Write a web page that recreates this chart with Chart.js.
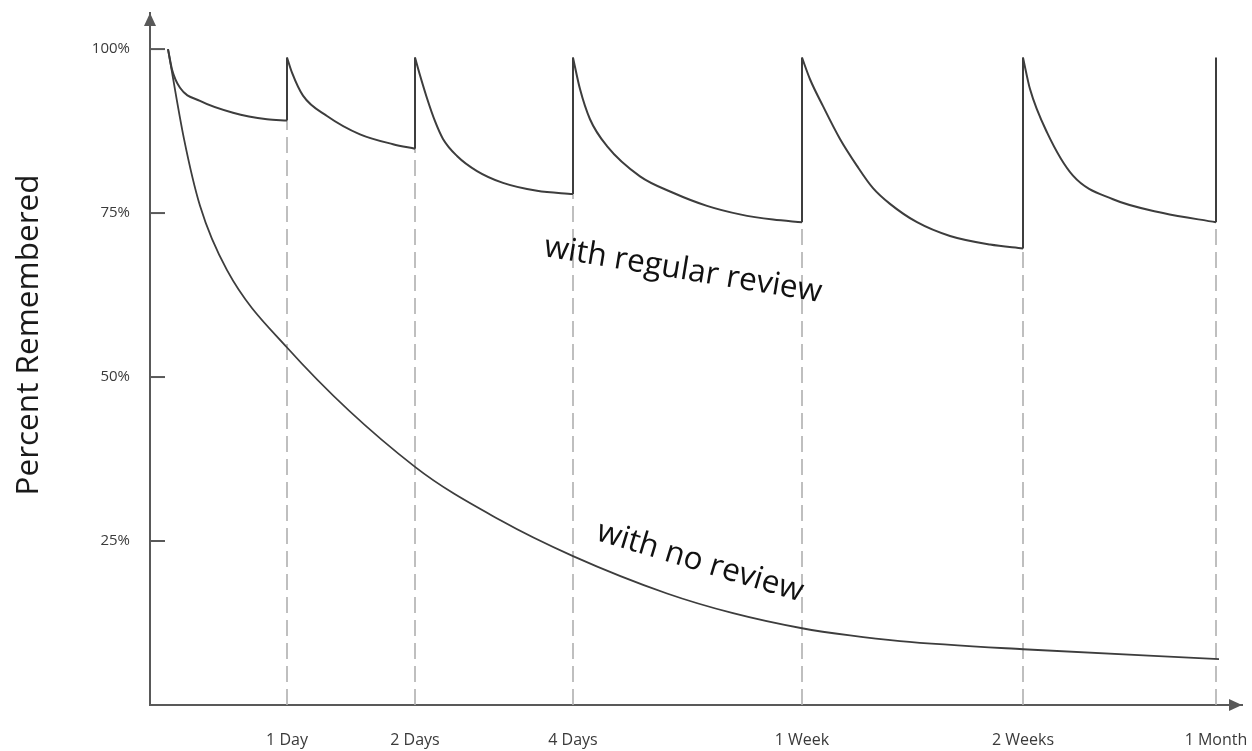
<!DOCTYPE html>
<html>
<head>
<meta charset="utf-8">
<script src="https://cdn.jsdelivr.net/npm/chart.js@4.4.1/dist/chart.umd.min.js"></script>
<style>
  html, body { margin: 0; padding: 0; background: #fff; }
  #wrap { width: 1252px; height: 751px; position: relative; }
</style>
</head>
<body>
<div id="wrap"><canvas id="chart"></canvas></div>
<script>
// review points on the (schematic) time axis
const tickLabels = ['1 Day', '2 Days', '4 Days', '1 Week', '2 Weeks', '1 Month'];
const tickPos = [1.37, 2.65, 4.23, 6.52, 8.73, 10.66];
const yTicks = [25, 50, 75, 100];

// forgetting curve without review
const noReviewX = [0.18, 0.34, 0.50, 0.77, 1.37, 2.65, 3.50, 4.23, 5.17, 5.83, 6.52, 7.00, 7.50, 8.73, 10.69];
const noReviewY = [100, 86.3, 76.1, 66.3, 54.5, 36.3, 28.2, 22.7, 17.0, 14.0, 11.7, 10.6, 9.75, 8.5, 7.0];

// curve with regular review, one decay piece after each review
const seg0X = [0.18, 0.22, 0.30, 0.50, 0.83, 1.17, 1.37];
const seg0Y = [100, 96.9, 94.1, 92.1, 90.3, 89.3, 89.1];
const seg1X = [1.37, 1.42, 1.53, 1.77, 2.10, 2.43, 2.65];
const seg1Y = [98.7, 96.4, 92.9, 89.8, 87.0, 85.5, 84.8];
const seg2X = [2.65, 2.70, 2.77, 2.85, 2.93, 3.07, 3.27, 3.53, 3.87, 4.23];
const seg2Y = [98.7, 96.0, 92.5, 89.0, 86.3, 83.7, 81.4, 79.6, 78.4, 77.9];
const seg3X = [4.23, 4.30, 4.40, 4.57, 4.90, 5.23, 5.57, 5.90, 6.23, 6.52];
const seg3Y = [98.7, 93.9, 89.3, 85.2, 80.6, 78.1, 76.1, 74.8, 74.0, 73.6];
const seg4X = [6.52, 6.60, 6.73, 6.90, 7.07, 7.23, 7.40, 7.67, 8.00, 8.40, 8.73];
const seg4Y = [98.7, 95.4, 91.3, 86.3, 82.2, 78.8, 76.4, 73.6, 71.5, 70.2, 69.6];
const seg5X = [8.73, 8.80, 8.97, 9.23, 9.63, 10.13, 10.66];
const seg5Y = [98.7, 93.9, 87.3, 80.7, 77.1, 75.0, 73.6];
const peakY = 98.7;

const curveColor = '#3d3d3d';
const axisColor = '#595959';

function pts(xs, ys) {
    return xs.map((x, i) => ({ x: x, y: ys[i] }));
}

const segs = [[seg0X, seg0Y], [seg1X, seg1Y], [seg2X, seg2Y], [seg3X, seg3Y], [seg4X, seg4Y], [seg5X, seg5Y]];

// vertical jumps at each review: from the trough up to the peak
let jumps = [];
// dashed guides from the axis up to the trough
let guides = [];
for (let i = 0; i < tickPos.length; i++) {
    let ys = segs[i][1];
    let low = ys[ys.length - 1];
    jumps.push({ x: tickPos[i], y: low });
    jumps.push({ x: tickPos[i], y: peakY });
    jumps.push({ x: tickPos[i], y: null });
    guides.push({ x: tickPos[i], y: 0 });
    guides.push({ x: tickPos[i], y: low });
    guides.push({ x: tickPos[i], y: null });
}

let datasets = [{
    data: guides,
    order: 10,
    borderColor: '#b0b0b0',
    borderWidth: 1.6,
    borderDash: [16, 7],
    tension: 0,
    spanGaps: false
}, {
    data: pts(noReviewX, noReviewY),
    order: 1,
    borderColor: curveColor,
    borderWidth: 1.8,
    cubicInterpolationMode: 'monotone'
}];
segs.forEach(s => {
    datasets.push({
        data: pts(s[0], s[1]),
        order: 1,
        borderColor: curveColor,
        borderWidth: 2,
        cubicInterpolationMode: 'monotone'
    });
});
datasets.push({
    data: jumps,
    order: 1,
    borderColor: curveColor,
    borderWidth: 2,
    tension: 0,
    spanGaps: false
});

// arrows, small y tick marks, axis title and curve captions
const decorPlugin = {
    id: 'decor',
    afterDatasetsDraw(chart) {
        const ctx = chart.ctx;
        const xs = chart.scales.x;
        const ys = chart.scales.y;
        const a = chart.chartArea;
        ctx.save();
        ctx.strokeStyle = axisColor;
        ctx.fillStyle = axisColor;
        ctx.lineWidth = 2;
        // y tick marks
        yTicks.forEach(v => {
            let py = ys.getPixelForValue(v);
            ctx.beginPath();
            ctx.moveTo(a.left, py);
            ctx.lineTo(a.left + 15, py);
            ctx.stroke();
        });
        // arrow heads
        ctx.beginPath();
        ctx.moveTo(a.left, a.top);
        ctx.lineTo(a.left - 6, a.top + 13);
        ctx.lineTo(a.left + 6, a.top + 13);
        ctx.closePath();
        ctx.fill();
        ctx.beginPath();
        ctx.moveTo(a.right, a.bottom);
        ctx.lineTo(a.right - 13, a.bottom - 6);
        ctx.lineTo(a.right - 13, a.bottom + 6);
        ctx.closePath();
        ctx.fill();

        // axis title
        ctx.fillStyle = '#1a1a1a';
        ctx.font = '31.5px "Open Sans"';
        ctx.textAlign = 'center';
        ctx.textBaseline = 'middle';
        ctx.translate(29, 335);
        ctx.rotate(-Math.PI / 2);
        ctx.fillText('Percent Remembered', 0, 0);
        ctx.restore();

        // captions along the curves
        const notes = [
            { text: 'with regular review', x: 5.33, y: 66.3, angle: 9.4 },
            { text: 'with no review', x: 5.50, y: 21.8, angle: 16.8 }
        ];
        notes.forEach(n => {
            ctx.save();
            ctx.translate(xs.getPixelForValue(n.x), ys.getPixelForValue(n.y));
            ctx.rotate(n.angle * Math.PI / 180);
            ctx.fillStyle = '#111';
            ctx.font = '31.5px "Open Sans"';
            ctx.textAlign = 'center';
            ctx.textBaseline = 'middle';
            ctx.fillText(n.text, 0, 0);
            ctx.restore();
        });
    }
};

new Chart(document.getElementById('chart'), {
    type: 'line',
    data: { datasets: datasets },
    options: {
        responsive: true,
        maintainAspectRatio: false,
        animation: false,
        layout: { padding: { top: 13, right: 10, left: 0, bottom: 0 } },
        elements: { point: { radius: 0 } },
        plugins: {
            legend: { display: false },
            tooltip: { enabled: false }
        },
        scales: {
            x: {
                type: 'linear',
                min: 0,
                max: 10.92,
                afterBuildTicks: s => { s.ticks = tickPos.map(v => ({ value: v })); },
                afterFit: s => {
                    s.height = 46;
                    s.paddingLeft = 0;
                    s.paddingRight = 0;
                },
                grid: { display: false, drawTicks: false },
                border: { display: true, color: axisColor, width: 2 },
                ticks: {
                    autoSkip: false,
                    maxRotation: 0,
                    padding: 26,
                    color: '#3a3a3a',
                    font: { family: 'Open Sans', size: 16 },
                    callback: (v, i) => tickLabels[i]
                }
            },
            y: {
                min: 0,
                max: 105.5,
                afterBuildTicks: s => { s.ticks = yTicks.map(v => ({ value: v })); },
                afterFit: s => {
                    s.width = 150;
                    s.paddingTop = 0;
                    s.paddingBottom = 0;
                },
                grid: { display: false, drawTicks: false },
                border: { display: true, color: axisColor, width: 2 },
                ticks: {
                    padding: 20,
                    color: '#3a3a3a',
                    font: { family: 'Open Sans', size: 15 },
                    callback: v => v + '%'
                }
            }
        }
    },
    plugins: [decorPlugin]
});
</script>
</body>
</html>
